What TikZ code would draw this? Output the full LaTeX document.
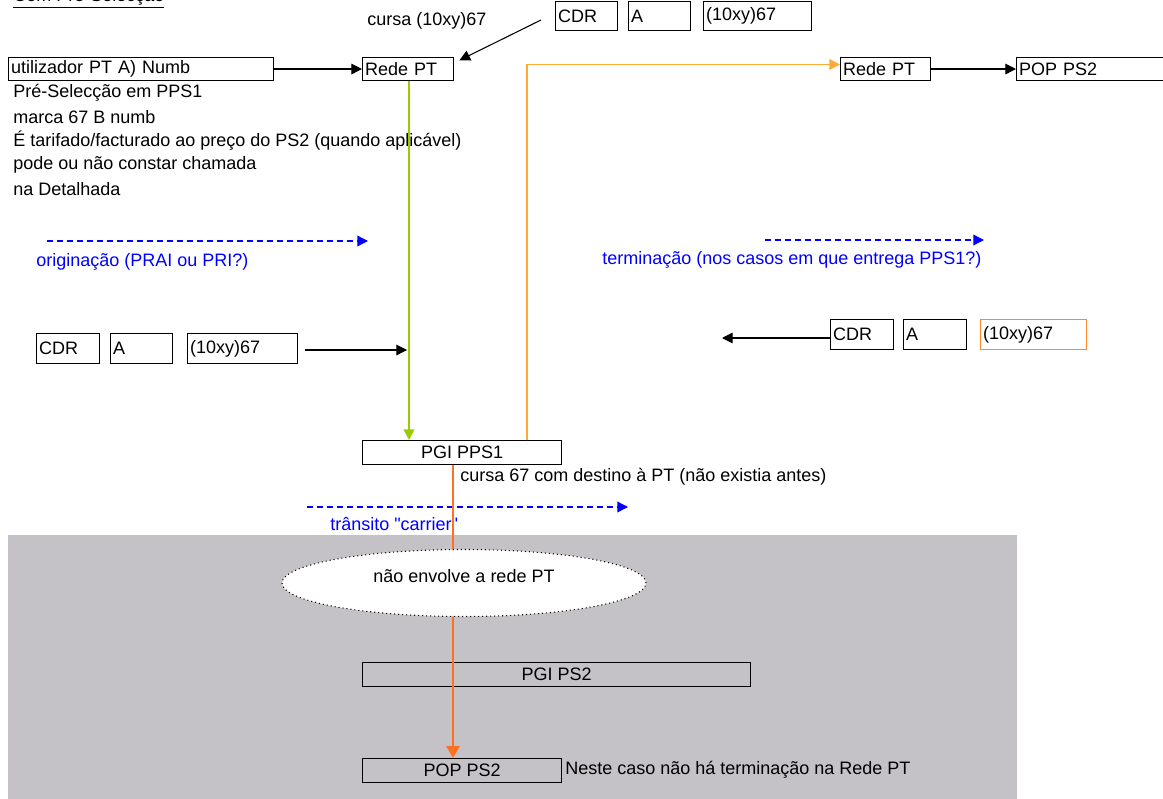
\documentclass[tikz,border=0pt]{standalone}
\usepackage{fontspec}
\setmainfont{Liberation Sans}
\usetikzlibrary{arrows.meta,calc,shapes.geometric}
\definecolor{bluel}{RGB}{0,0,255}
\definecolor{grn}{RGB}{153,204,0}
\definecolor{orgL}{RGB}{255,170,51}
\definecolor{orgD}{RGB}{255,112,32}
\definecolor{bggray}{RGB}{196,194,198}
\begin{document}
\begin{tikzpicture}[x=0.75pt,y=-0.75pt,
  font=\fontsize{13.5}{15}\selectfont,
  lw/.style={line width=0.8pt},
  clw/.style={line width=1.4pt},
  tip/.style={-{Triangle[length=8pt,width=8pt]}},
  box/.style={draw, lw, anchor=north west, inner xsep=2pt, inner ysep=0pt, align=left},
  cbox/.style={draw, lw, anchor=north west, inner sep=0pt, align=center, minimum height=18pt},
  txt/.style={anchor=west, inner sep=0pt},
  arr/.style={lw, tip},
  barr/.style={line width=1pt, bluel, dash pattern=on 4.5pt off 3pt, tip},
  btxt/.style={txt, text=bluel}]
\useasboundingbox (0,0) rectangle (1163,799);
% grey area
\fill[bggray] (8,535) rectangle (1017,799);
% title
\node[anchor=base west, inner sep=0pt] (title) at (13,2) {\underline{Com Pré-Selecção}};
% top boxes
\node[box, text width=194.75pt, minimum height=17.25pt] (util) at (8,57) {utilizador PT A) Numb};
\node[box, text width=64.25pt, minimum height=17.25pt] (rede1) at (362,57) {Rede PT};
\node[txt] (cursa) at (367,21) {cursa (10xy)67};
\node[box, text width=42.5pt, minimum height=21.75pt] (cdrT) at (555,1) {CDR};
\node[box, text width=42.5pt, minimum height=21.75pt] (aT) at (628,1) {A};
\node[box, text width=77pt, minimum height=21.75pt] (xyT) at (703,1) {(10xy)67};
\node[box, text width=63.5pt, minimum height=17.25pt] (rede2) at (840,57) {Rede PT};
\node[box, text width=116pt, minimum height=17.25pt] (popT) at (1016,57) {POP PS2};
% left notes
\node[txt] (n1) at (13,93) {Pré-Selecção em PPS1};
\node[txt] (n2) at (13,117) {marca 67 B numb};
\node[txt] (n3) at (13,141) {É tarifado/facturado ao preço do PS2 (quando aplicável)};
\node[txt] (n4) at (13,165) {pode ou não constar chamada};
\node[txt] (n5) at (13,189) {na Detalhada};
% blue labels
\coordinate (b1s) at (47,241);
\coordinate (b1e) at (368,241);
\node[btxt] (orig) at (36,262) {originação (PRAI ou PRI?)};
\coordinate (b2s) at (765,240);
\coordinate (b2e) at (984,240);
\node[btxt] (term) at (602,260) {terminação (nos casos em que entrega PPS1?)};
% CDR rows
\node[box, text width=43.25pt, minimum height=22.5pt] (cdrL) at (36,333) {CDR};
\node[box, text width=42.5pt, minimum height=22.5pt] (aL) at (110,333) {A};
\node[box, text width=78.5pt, minimum height=22.5pt] (xyL) at (187,333) {(10xy)67};
\coordinate (lae) at (407,350);
\coordinate (las) at (305,350);
\node[box, text width=43.25pt, minimum height=22.5pt] (cdrR) at (830,319) {CDR};
\node[box, text width=43.25pt, minimum height=22.5pt] (aR) at (903,319) {A};
\node[box, draw=orgL!80!red, text width=75.5pt, minimum height=22.5pt] (xyR) at (980,319) {(10xy)67};
\coordinate (rae) at (722,338);
% PGI PPS1
\node[cbox, minimum width=149.25pt] (pgi1) at (362,440) {PGI PPS1};
\node[txt] (cursa67) at (460,477) {cursa 67 com destino à PT (não existia antes)};
\coordinate (b3s) at (307,507);
\coordinate (b3e) at (628,507);
\node[btxt] (trans) at (330,524) {trânsito \textquotedbl carrier\textquotedbl};
% lower boxes
\node[cbox, minimum width=291pt] (pgi2) at (362,662) {PGI PS2};
\node[cbox, minimum width=149.25pt] (pop2) at (362,758) {POP PS2};
\node[txt] (neste) at (565,770) {Neste caso não há terminação na Rede PT};
% connectors
\draw[arr] (util) -- (rede1);
\coordinate (cs) at (541,20);
\draw[arr] (cs) -- ([xshift=4pt,yshift=-2.5pt]rede1.north east);
\draw[arr] (rede2) -- (popT.west |- rede2.west);
\coordinate (gl) at (409,0);
\draw[clw, grn, tip] (rede1.south -| gl) -- (pgi1.north -| gl);
\coordinate (ol) at (527,0);
\draw[clw, orgL, tip] (pgi1.north -| ol) |- ([yshift=3.4pt]rede2.west);
\draw[barr] (b1s) -- (b1e);
\draw[barr] (b2s) -- (b2e);
\draw[barr] (b3s) -- (b3e);
\draw[arr] (las) -- (lae);
\draw[arr] (cdrR.west |- rae) -- (rae);
\coordinate (od) at (453,0);
\draw[clw, orgD, -{Triangle[length=9pt,width=10pt]}] (pgi1.south -| od) -- (pop2.north -| od);
% ellipse
\node[ellipse, fill=white, draw, dash pattern=on 0.8pt off 2.2pt, line width=0.8pt, minimum width=273pt, minimum height=50.25pt, inner sep=0pt] (ell) at (464,583) {};
\node[inner sep=0pt] (elltxt) at (464,576) {não envolve a rede PT};
\end{tikzpicture}
\end{document}
